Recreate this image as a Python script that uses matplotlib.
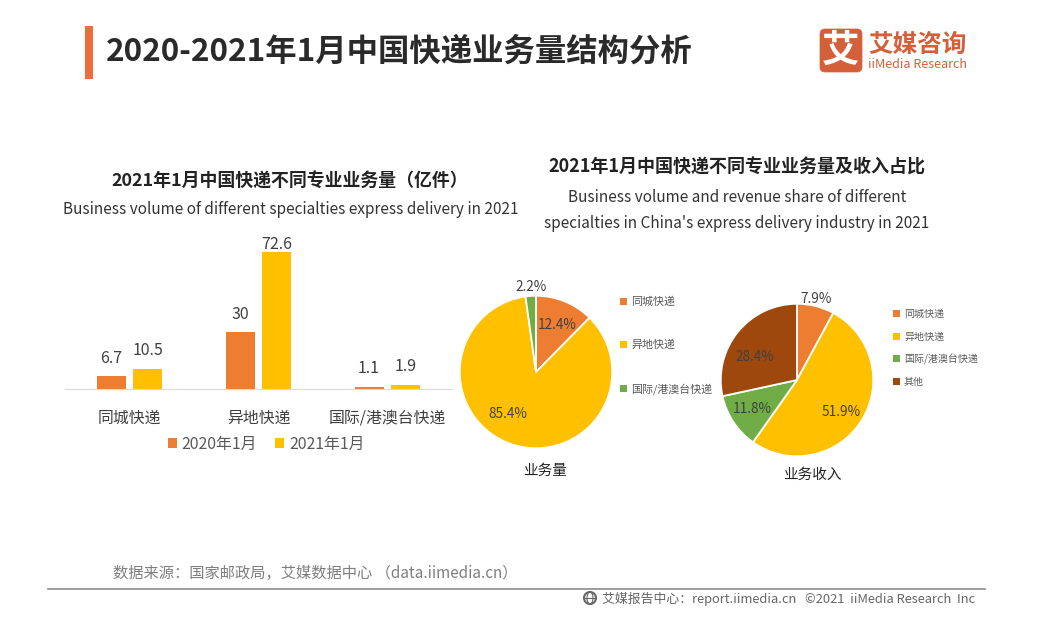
import matplotlib
matplotlib.use("Agg")
import matplotlib.pyplot as plt
from matplotlib.patches import Rectangle, FancyBboxPatch, Circle, Ellipse

plt.rcParams['font.family'] = ['Noto Sans CJK SC', 'DejaVu Sans']

W, H = 1057, 626
title = "2020-2021年1月中国快递业务量结构分析"
bar_title = "2021年1月中国快递不同专业业务量（亿件）"
bar_sub = "Business volume of different specialties express delivery in 2021"
pie_title = "2021年1月中国快递不同专业业务量及收入占比"
pie_sub1 = "Business volume and revenue share of different"
pie_sub2 = "specialties in China's express delivery industry in 2021"
source = "数据来源：国家邮政局，艾媒数据中心 （data.iimedia.cn）"
footer = "艾媒报告中心：report.iimedia.cn   ©2021  iiMedia Research  Inc"

categories = ["同城快递", "异地快递", "国际/港澳台快递"]
series_2020 = [6.7, 30, 1.1]
series_2021 = [10.5, 72.6, 1.9]
series_names = ["2020年1月", "2021年1月"]

volume_labels = ["同城快递", "异地快递", "国际/港澳台快递"]
volume_share = [12.4, 85.4, 2.2]
revenue_labels = ["同城快递", "异地快递", "国际/港澳台快递", "其他"]
revenue_share = [7.9, 51.9, 11.8, 28.4]
volume_name = "业务量"
revenue_name = "业务收入"

ORANGE, YELLOW, GREEN, BROWN = "#ED7D31", "#FFC000", "#70AD47", "#9E480E"
DARK = "#404040"

fig = plt.figure(figsize=(W / 100, H / 100), dpi=100, facecolor="white")


def axpx(x0, y0, x1, y1, **kw):
    return fig.add_axes([x0 / W, 1 - y1 / H, (x1 - x0) / W, (y1 - y0) / H], **kw)


bg = axpx(0, 0, W, H)
bg.set_xlim(0, W)
bg.set_ylim(H, 0)
bg.axis("off")
bg.set_zorder(10)


def t(x, y, s, size, color=DARK, ha="center", weight="normal"):
    bg.text(x, y + 2, s, fontsize=size, color=color, ha=ha, va="center", fontweight=weight)


# header
bg.add_patch(Rectangle((85, 26), 8, 53, color="#F26B3A", lw=0))
t(106, 50, title, 22.6, "#2a2a2a", ha="left", weight="bold")

# logo
bg.add_patch(FancyBboxPatch((820, 29), 42, 43, boxstyle="round,pad=0,rounding_size=5",
                            fc="#D4603A", ec="#D4603A", lw=0.5))
t(841, 48, "艾", 27, "white", weight="bold")
t(918, 43, "艾媒咨询", 17.7, "#D4603A", weight="bold")
t(917, 62, "iiMedia Research", 9.1, "#D4603A", weight="medium")

# titles
t(290, 179, bar_title, 12.9, "#222222", weight="bold")
t(291, 208, bar_sub, 11.05, "#333333")
t(737, 165, pie_title, 13, "#222222", weight="bold")
t(737, 195, pie_sub1, 11.05, "#333333")
t(737, 221, pie_sub2, 11.05, "#333333")

# bars
ax = axpx(65, 232, 452, 389)
ax.patch.set_alpha(0)
ax.set_xlim(-0.5, 2.5)
ax.set_ylim(0, 157 / 1.887)
w = 0.225
off = 0.143
xs = range(len(categories))
ax.bar([x - off for x in xs], series_2020, w, color=ORANGE, label=series_names[0])
ax.bar([x + off for x in xs], series_2021, w, color=YELLOW, label=series_names[1])
for x, a, b in zip(xs, series_2020, series_2021):
    ax.annotate(str(a), (x - off, a), xytext=(0, 13), textcoords="offset points",
                ha="center", va="center", fontsize=11.5, color=DARK)
    ax.annotate(str(b), (x + off, b), xytext=(0, 5.5 if b > 70 else 13.5), textcoords="offset points",
                ha="center", va="center", fontsize=11.5, color=DARK)
for s in ("top", "right", "left"):
    ax.spines[s].set_visible(False)
ax.spines["bottom"].set_color("#D9D9D9")
ax.set_yticks([])
ax.set_xticks(list(xs), categories, fontsize=11.4, color=DARK)
ax.tick_params(axis="x", length=0, pad=15)
ax.legend(loc="center", bbox_to_anchor=(0.52, -0.35), ncol=2, frameon=False,
          fontsize=11.4, labelcolor="#595959", handlelength=0.57, handleheight=0.57,
          columnspacing=1.14, handletextpad=0.32)


def pie(cx, cy, values, colors, pcts, name, name_x, name_y):
    r = 77
    a = axpx(cx - r, cy - r, cx + r, cy + r)
    a.pie(values, colors=colors, startangle=90, counterclock=False, radius=1,
          wedgeprops=dict(edgecolor="white", linewidth=1.3))
    a.set_xlim(-1.01, 1.01)
    a.set_ylim(-1.01, 1.01)
    for (px, py, s) in pcts:
        t(px, py, s, 9.8, "#404040")
    t(name_x, name_y, name, 10.5, "#222222", weight="medium")


pie(536, 372, volume_share, [ORANGE, YELLOW, GREEN],
    [(557, 323, f"{volume_share[0]}%"), (508, 412, f"{volume_share[1]}%"),
     (531, 285, f"{volume_share[2]}%")], volume_name, 545, 469)
pie(797, 380, revenue_share, [ORANGE, YELLOW, GREEN, BROWN],
    [(816, 297, f"{revenue_share[0]}%"), (841, 410, f"{revenue_share[1]}%"),
     (752, 407, f"{revenue_share[2]}%"), (755, 355, f"{revenue_share[3]}%")], revenue_name, 812, 473)


def pie_legend(x, ys, labels, colors, size):
    for y, lab, c in zip(ys, labels, colors):
        bg.add_patch(Rectangle((x, y - 3), 7, 7, color=c, lw=0))
        t(x + 11, y - 1, lab, size, "#595959", ha="left")


pie_legend(620, [301, 344, 388], volume_labels, [ORANGE, YELLOW, GREEN], 7.9)
pie_legend(893, [313, 336, 358, 381], revenue_labels, [ORANGE, YELLOW, GREEN, BROWN], 7.2)

# footer
t(113, 571, source, 11, "#7F7F7F", ha="left")
bg.plot([48, 985], [589, 589], color="#8C8C8C", lw=1.2)
bg.add_patch(Circle((590, 598), 6, fc="none", ec="#666666", lw=1.5))
bg.add_patch(Ellipse((590, 598), 6, 12, fc="none", ec="#666666", lw=0.8))
bg.plot([584, 596], [598, 598], color="#666666", lw=0.8)
t(602, 597, footer, 9.3, "#666666", ha="left")

fig.savefig("out.png", dpi=100, facecolor="white")
